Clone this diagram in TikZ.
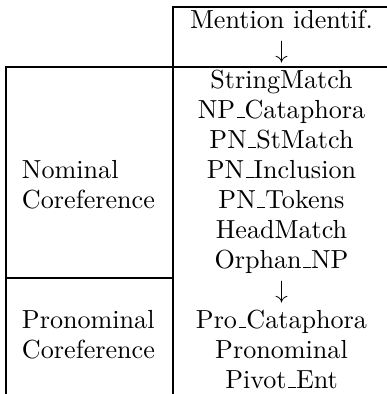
\documentclass[tikz,border=0pt]{standalone}
\newcommand\undsc{\leavevmode\kern.06em\vbox{\hrule width.3em}}
\begin{document}
\begin{tikzpicture}[x=0.4pt,y=-0.4pt,
  every node/.style={font=\fontsize{10.45pt}{12pt}\selectfont},
  cell/.style={inner sep=0pt,anchor=base},
  lcell/.style={inner sep=0pt,anchor=base west},
  rule/.style={line width=0.45pt,draw=black}]
\useasboundingbox (0,0) rectangle (387,394);
% table rules
\draw[rule] (173,394) -- (173,7) -- (390,7);
\draw[rule] (6,394) -- (6,67) -- (390,67);
\draw[rule] (6,278) -- (173,278);
% right column
\node[cell] (mi)  at (281.5,28)  {Mention identif.};
\node[cell] (a1)  at (281.5,58)  {$\downarrow$};
\node[cell] (sm)  at (281.5,88)  {StringMatch};
\node[cell] (npc) at (281.5,118) {NP\undsc Cataphora};
\node[cell] (pns) at (281.5,148) {PN\undsc StMatch};
\node[cell] (pni) at (281.5,178) {PN\undsc Inclusion};
\node[cell] (pnt) at (281.5,208) {PN\undsc Tokens};
\node[cell] (hm)  at (281.5,238) {HeadMatch};
\node[cell] (onp) at (281.5,268) {Orphan\undsc NP};
\node[cell] (a2)  at (281.5,298) {$\downarrow$};
\node[cell] (prc) at (281.5,328) {Pro\undsc Cataphora};
\node[cell] (pro) at (281.5,358) {Pronominal};
\node[cell] (pe)  at (281.5,388) {Pivot\undsc Ent};
% left column
\node[lcell] (nom1) at (21.5,178) {Nominal};
\node[lcell] (nom2) at (21.5,208) {Coreference};
\node[lcell] (pr1)  at (21.5,328) {Pronominal};
\node[lcell] (pr2)  at (21.5,358) {Coreference};
\end{tikzpicture}
\end{document}
